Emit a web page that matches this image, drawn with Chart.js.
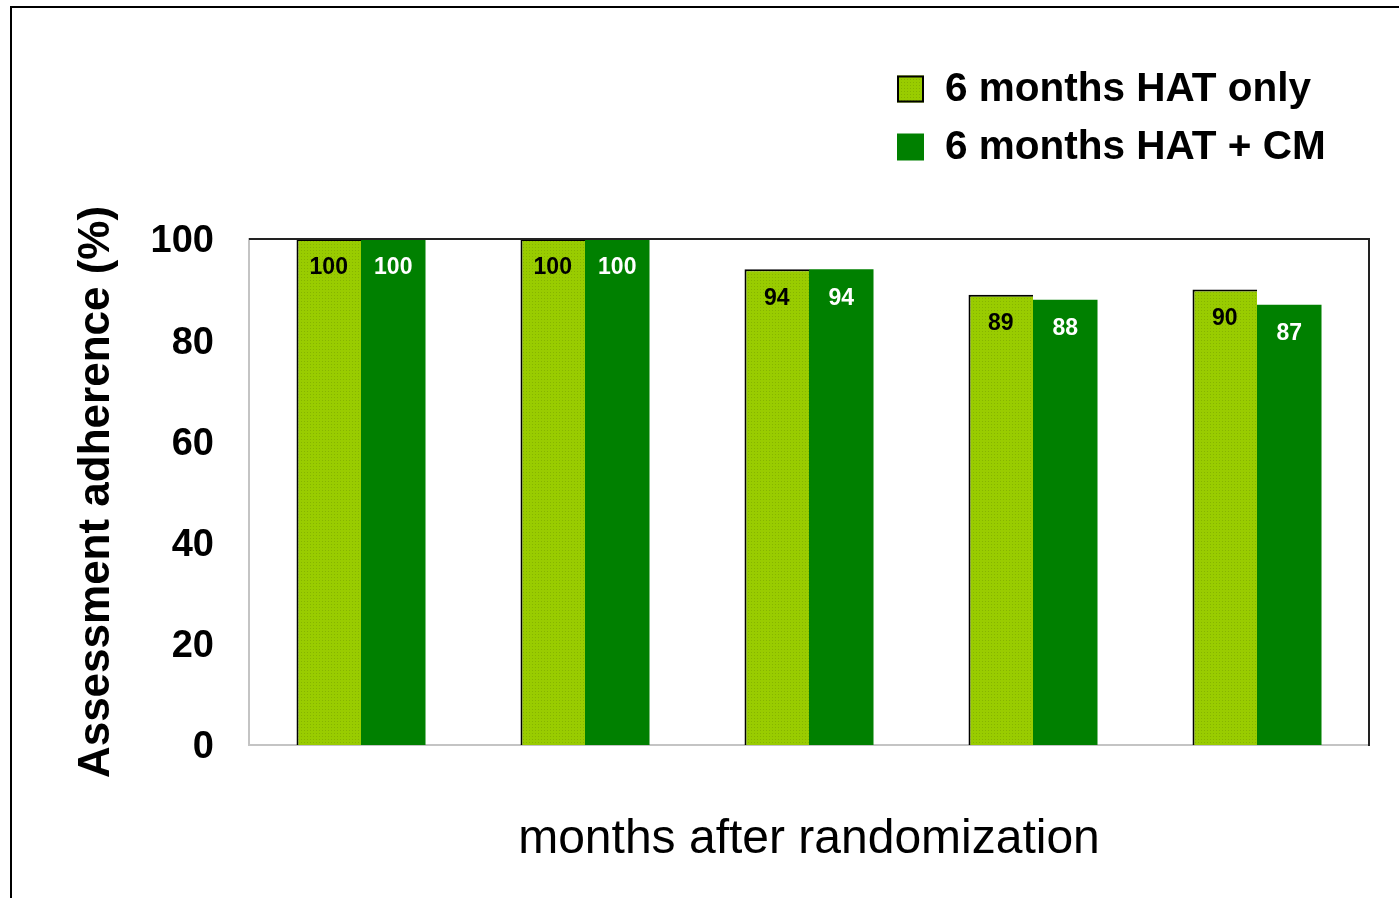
<!DOCTYPE html>
<html>
<head>
<meta charset="utf-8">
<title>Assessment adherence</title>
<script src="https://cdn.jsdelivr.net/npm/chart.js@4/dist/chart.umd.min.js"></script>
<style>
  html, body { margin: 0; padding: 0; background: #ffffff; }
  #wrap { position: relative; width: 1399px; height: 898px; overflow: hidden; }
  #frame {
    position: absolute; left: 10px; top: 6px; width: 3000px; height: 3000px;
    border-left: 2px solid #000; border-top: 2px solid #000; pointer-events: none;
  }
</style>
</head>
<body>
<div id="wrap">
  <canvas id="chart" width="1399" height="898"></canvas>
  <div id="frame"></div>
</div>
<script>
// Follow-up assessment points (axis labels are not printed)
const categories = ['1', '2', '3', '4', '5'];

const seriesNames = ['6 months HAT only', '6 months HAT + CM'];
const hatOnly = [100, 100, 94, 89, 90];
const hatCm   = [100, 100, 94, 88, 87];

const yTicks = [0, 20, 40, 60, 80, 100];
const xTitle = 'months after randomization';
const yTitle = 'Assessment adherence (%)';

const FONT = '"Liberation Sans", Arial, Helvetica, sans-serif';

// light green with a fine darker dot texture
function dottedFill(base, dot) {
  const c = document.createElement('canvas');
  c.width = 3; c.height = 3;
  const g = c.getContext('2d');
  g.fillStyle = base; g.fillRect(0, 0, 3, 3);
  g.fillStyle = dot; g.fillRect(1, 1, 1, 1);
  return g.createPattern(c, 'repeat');
}
const lightFill = dottedFill('#99cc00', '#86b400');
const darkFill = '#008000';
const valueColors = ['#000000', '#ffffff'];

// value printed inside the top of every bar
const barValues = {
  id: 'barValues',
  afterDatasetsDraw(chart) {
    const ctx = chart.ctx;
    ctx.save();
    ctx.font = 'bold 23px ' + FONT;
    ctx.textAlign = 'center';
    ctx.textBaseline = 'middle';
    chart.data.datasets.forEach((ds, di) => {
      const meta = chart.getDatasetMeta(di);
      ctx.fillStyle = valueColors[di];
      meta.data.forEach((bar, i) => {
        ctx.fillText(String(ds.data[i]), bar.x, bar.y + 29);
      });
    });
    ctx.restore();
  }
};

// dark top and right edges of the plot box
const plotEdges = {
  id: 'plotEdges',
  afterDatasetsDraw(chart) {
    const {ctx, chartArea: a} = chart;
    ctx.save();
    ctx.strokeStyle = '#222222';
    ctx.lineWidth = 2;
    ctx.beginPath();
    ctx.moveTo(a.left, a.top);
    ctx.lineTo(a.right, a.top);
    ctx.lineTo(a.right, a.bottom + 1);
    ctx.stroke();
    ctx.restore();
  }
};

// two-row legend in the upper right
const stackedLegend = {
  id: 'stackedLegend',
  afterDraw(chart) {
    const ctx = chart.ctx;
    const x0 = 897, rows = [89, 147], box = 27;
    ctx.save();
    ctx.font = 'bold 40.5px ' + FONT;
    ctx.textAlign = 'left';
    ctx.textBaseline = 'middle';
    chart.data.datasets.forEach((ds, i) => {
      const cy = rows[i];
      ctx.fillStyle = ds.backgroundColor;
      ctx.fillRect(x0, cy - box / 2, box, box);
      if (ds.legendBorder) {
        ctx.strokeStyle = '#000000';
        ctx.lineWidth = 2;
        ctx.strokeRect(x0 + 1, cy - box / 2 + 1, box - 2, box - 2);
      }
      ctx.fillStyle = '#000000';
      ctx.fillText(ds.label, 945, cy + 1);
    });
    ctx.restore();
  }
};

new Chart(document.getElementById('chart'), {
  type: 'bar',
  data: {
    labels: categories,
    datasets: [
      {
        label: seriesNames[0],
        data: hatOnly,
        backgroundColor: lightFill,
        borderColor: '#000000',
        borderWidth: {left: 2, top: 2, right: 0, bottom: 0},
        borderSkipped: false,
        legendBorder: true
      },
      {
        label: seriesNames[1],
        data: hatCm,
        backgroundColor: darkFill,
        borderWidth: 0,
        legendBorder: false
      }
    ]
  },
  options: {
    responsive: false,
    animation: false,
    events: [],
    layout: { padding: { left: 0, top: 239, right: 30, bottom: 0 } },
    datasets: { bar: { categoryPercentage: 0.576, barPercentage: 1.0 } },
    plugins: {
      legend: { display: false },
      title: { display: false },
      tooltip: { enabled: false }
    },
    scales: {
      x: {
        grid: { display: false },
        border: { display: true, color: '#c4c4c4', width: 2 },
        ticks: { display: false },
        title: {
          display: true,
          text: xTitle,
          color: '#000000',
          font: { family: FONT, size: 48, weight: 'normal' },
          padding: { top: 0, bottom: 29 }
        },
        afterFit(scale) { scale.height = 153; }
      },
      y: {
        min: 0,
        max: 100,
        grid: { display: false, drawTicks: false },
        border: { display: true, color: '#c4c4c4', width: 2 },
        afterBuildTicks(scale) { scale.ticks = yTicks.map(v => ({ value: v })); },
        ticks: {
          padding: 35,
          labelOffset: 3,
          color: '#000000',
          font: { family: FONT, size: 38, weight: 'bold' }
        },
        title: {
          display: true,
          text: yTitle,
          color: '#000000',
          font: { family: FONT, size: 44, weight: 'bold' },
          padding: { top: 70, bottom: 0 }
        },
        afterFit(scale) { scale.width = 249; }
      }
    }
  },
  plugins: [barValues, plotEdges, stackedLegend]
});
</script>
</body>
</html>
